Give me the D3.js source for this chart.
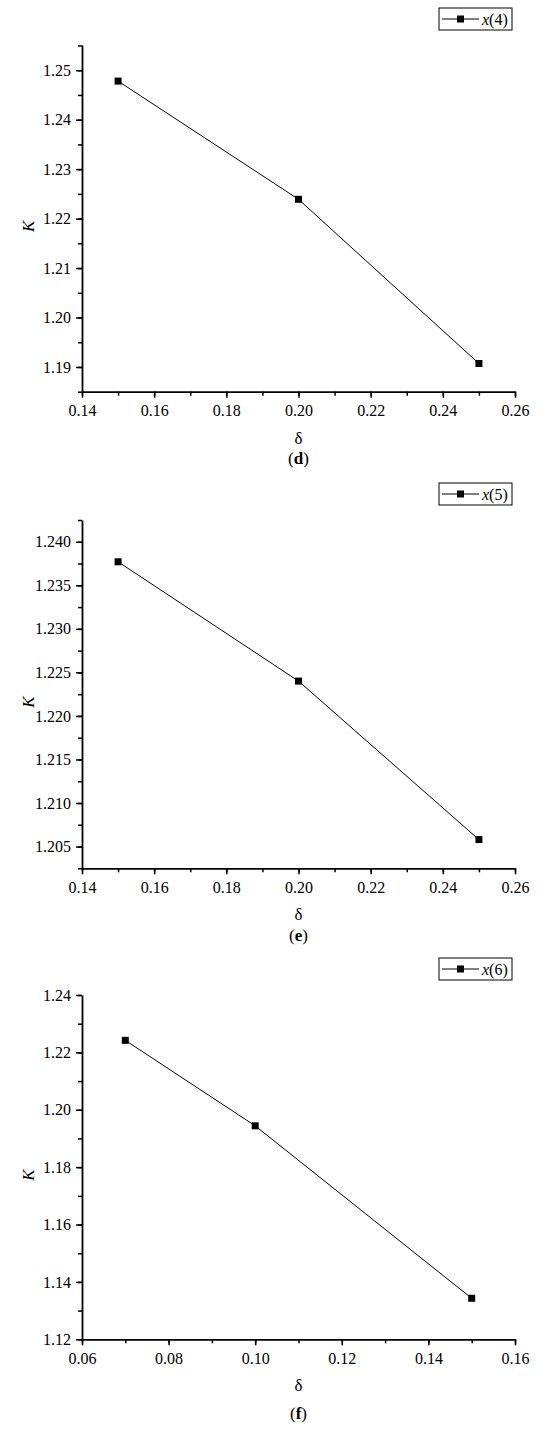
<!DOCTYPE html>
<html>
<head>
<meta charset="utf-8">
<script src="https://cdn.jsdelivr.net/npm/d3@7"></script>
<style>
  body { margin: 0; background: #fff; }
  svg text { font-family: "Liberation Serif", "Tinos", "Times New Roman", "DejaVu Serif", serif !important; fill: #000; }
</style>
</head>
<body>
<div id="chart"></div>
<script>
// ---- Daten ----
const deltaD = [0.15, 0.20, 0.25];
const kD = [1.2478, 1.2239, 1.1907];
const yTicksD = [1.19, 1.20, 1.21, 1.22, 1.23, 1.24, 1.25];

const deltaE = [0.15, 0.20, 0.25];
const kE = [1.2377, 1.2240, 1.2058];
const yTicksE = [1.205, 1.210, 1.215, 1.220, 1.225, 1.230, 1.235, 1.240];

const deltaF = [0.07, 0.10, 0.15];
const kF = [1.2242, 1.1944, 1.1343];
const yTicksF = [1.12, 1.14, 1.16, 1.18, 1.20, 1.22, 1.24];

const xTicksDE = [0.14, 0.16, 0.18, 0.20, 0.22, 0.24, 0.26];
const xTicksF = [0.06, 0.08, 0.10, 0.12, 0.14, 0.16];

const width = 550, height = 1435;
const left = 82, right = 515;

const svg = d3.select("#chart")
  .append("svg")
  .attr("width", width)
  .attr("height", height);

const panels = [
  { x: deltaD, y: kD, yTicks: yTicksD, xTicks: xTicksDE, yDomain: [1.185, 1.2551], yMinor: 0.005,
    xDomain: [0.14, 0.26], top: 45, bottom: 391.7, fmt: ".2f", legend: "(4)", caption: "d", capY: 458 },
  { x: deltaE, y: kE, yTicks: yTicksE, xTicks: xTicksDE, yDomain: [1.2025, 1.2425], yMinor: 0.0025,
    xDomain: [0.14, 0.26], top: 520, bottom: 868.3, fmt: ".3f", legend: "(5)", caption: "e", capY: 935 },
  { x: deltaF, y: kF, yTicks: yTicksF, xTicks: xTicksF, yDomain: [1.12, 1.24], yMinor: 0.01,
    xDomain: [0.06, 0.16], top: 995, bottom: 1339.3, fmt: ".2f", legend: "(6)", caption: "f", capY: 1413 }
];

const drawPanel = (p) => {
  const xScale = d3.scaleLinear().domain(p.xDomain).range([left, right]);
  const yScale = d3.scaleLinear().domain(p.yDomain).range([p.bottom, p.top]);

  const g = svg.append("g");

  // kleine Ticks (ohne Beschriftung)
  const xMinor = d3.range(Math.round(p.xDomain[0] * 100), Math.round(p.xDomain[1] * 100) + 1)
    .map(v => v / 100);
  const yMinor = d3.range(Math.ceil(p.yDomain[0] / p.yMinor - 1e-6), Math.floor(p.yDomain[1] / p.yMinor + 1e-6) + 1)
    .map(v => v * p.yMinor);

  g.append("g")
    .attr("transform", `translate(0, ${p.bottom})`)
    .call(d3.axisBottom(xScale).tickValues(xMinor).tickSize(4).tickFormat("").tickSizeOuter(0))
    .call(a => a.select(".domain").remove());

  g.append("g")
    .attr("transform", `translate(${left}, 0)`)
    .call(d3.axisLeft(yScale).tickValues(yMinor).tickSize(4).tickFormat("").tickSizeOuter(0))
    .call(a => a.select(".domain").remove());

  // Hauptachsen
  const bottomAxis = g.append("g")
    .attr("transform", `translate(0, ${p.bottom})`)
    .call(d3.axisBottom(xScale).tickValues(p.xTicks).tickFormat(d3.format(".2f"))
      .tickSize(6).tickPadding(7).tickSizeOuter(0));

  const leftAxis = g.append("g")
    .attr("transform", `translate(${left}, 0)`)
    .call(d3.axisLeft(yScale).tickValues(p.yTicks).tickFormat(d3.format(p.fmt))
      .tickSize(6).tickPadding(5).tickSizeOuter(0));

  [bottomAxis, leftAxis].forEach(a => {
    a.selectAll("text").attr("font-size", 16);
    a.select(".domain").attr("stroke-width", 1.8);
    a.selectAll(".tick line").attr("stroke-width", 1.5);
  });
  g.selectAll(".tick line").attr("stroke", "#000").attr("stroke-width", 1.5);

  // Achsentitel
  g.append("text")
    .attr("transform", `translate(28, ${(p.top + p.bottom) / 2 + 8}) rotate(-90)`)
    .attr("text-anchor", "middle")
    .attr("dy", "0.35em")
    .attr("font-size", 17)
    .attr("font-style", "italic")
    .text("K");

  g.append("text")
    .attr("x", (left + right) / 2)
    .attr("y", p.bottom + 46)
    .attr("text-anchor", "middle")
    .attr("dy", "0.35em")
    .attr("font-size", 17)
    .text("δ");

  const cap = g.append("text")
    .attr("x", (left + right) / 2)
    .attr("y", p.capY)
    .attr("text-anchor", "middle")
    .attr("dy", "0.35em")
    .attr("font-size", 17);
  cap.append("tspan").text("(");
  cap.append("tspan").attr("font-weight", "bold").text(p.caption);
  cap.append("tspan").text(")");

  // Linie und Marker
  const pts = p.x.map((d, i) => [d, p.y[i]]);
  const line = d3.line().x(d => xScale(d[0])).y(d => yScale(d[1]));

  g.append("path")
    .datum(pts)
    .attr("d", line)
    .attr("fill", "none")
    .attr("stroke", "#000")
    .attr("stroke-width", 1);

  g.selectAll(".pt")
    .data(pts)
    .join("rect")
    .attr("class", "pt")
    .attr("x", d => xScale(d[0]) - 3.5)
    .attr("y", d => yScale(d[1]) - 3.5)
    .attr("width", 7)
    .attr("height", 7)
    .attr("fill", "#000");

  // Legende
  const ly = p.top - 37;
  const lg = g.append("g");
  lg.append("rect")
    .attr("x", 439).attr("y", ly).attr("width", 73).attr("height", 22)
    .attr("fill", "#fff").attr("stroke", "#000").attr("stroke-width", 1);
  lg.append("line")
    .attr("x1", 442).attr("x2", 479).attr("y1", ly + 11).attr("y2", ly + 11)
    .attr("stroke", "#000").attr("stroke-width", 1);
  lg.append("rect")
    .attr("x", 457).attr("y", ly + 7.5).attr("width", 7).attr("height", 7)
    .attr("fill", "#000");
  const lt = lg.append("text")
    .attr("x", 482).attr("y", ly + 16.5)
    .attr("font-size", 16);
  lt.append("tspan").attr("font-style", "italic").text("x");
  lt.append("tspan").text(p.legend);
};

panels.forEach(drawPanel);
</script>
</body>
</html>
